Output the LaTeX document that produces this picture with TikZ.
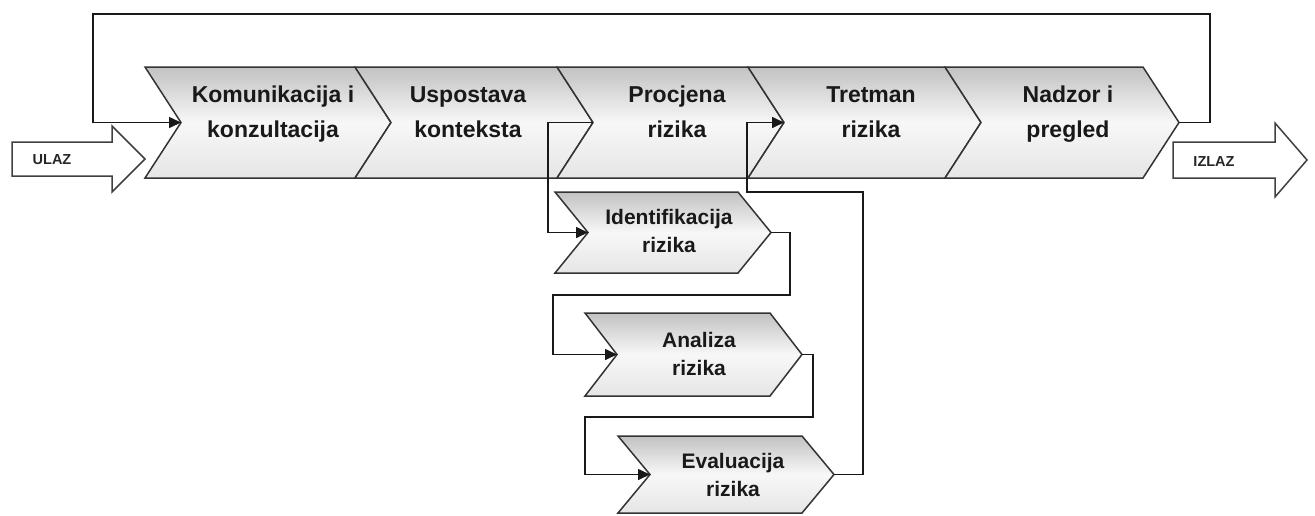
\documentclass[tikz,border=0pt]{standalone}
\usepackage{fontspec}
\setmainfont{Liberation Sans}
\usetikzlibrary{arrows.meta}
\newcommand\mychev[5]{\path[chev] (#1,#3) -- (#2,#3) -- ({#2+#5},{(#3+#4)/2}) -- (#2,#4) -- (#1,#4) -- ({#1+#5},{(#3+#4)/2}) -- cycle;}
\begin{document}
\begin{tikzpicture}[x=1pt,y=-1pt,
  chev/.style={draw=black!80, line width=1.5pt, line join=miter, top color=black!24, bottom color=black!10, middle color=black!3},
  lbl/.style={font=\bfseries\fontsize{23}{35}\selectfont, align=center, inner sep=0pt, anchor=north, text=black!90},
  slbl/.style={font=\bfseries\fontsize{21}{28}\selectfont, align=center, inner sep=0pt, anchor=north, text=black!90},
  conn/.style={draw=black!90, line width=1.6pt},
  arr/.style={conn, -{Triangle[length=12pt,width=11pt]}},
  bigarrow/.style={draw=black!75, line width=1.5pt, fill=white, line join=miter},
  io/.style={font=\bfseries\fontsize{14.5}{16}\selectfont, inner sep=0pt, text=black!85}]
\useasboundingbox (0,0) rectangle (1315,515);

% main band
\mychev{145}{355}{67}{178}{36}
\mychev{355}{557}{67}{178}{36}
\mychev{557}{748}{67}{178}{36}
\mychev{748}{945}{67}{178}{36}
\mychev{945}{1143}{67}{178}{36}
% sub chevrons
\mychev{555}{738}{192}{273}{33}
\mychev{585}{770}{313}{396}{32}
\mychev{618}{802}{436}{513}{32}

% anchor points
\coordinate (kom-n) at (181,122.5);
\coordinate (usp-t) at (593,122.5);
\coordinate (tre-n) at (784,122.5);
\coordinate (nad-t) at (1179,122.5);
\coordinate (idn-n) at (588,232.5);
\coordinate (idn-t) at (771,232.5);
\coordinate (ana-n) at (617,354.5);
\coordinate (ana-t) at (802,354.5);
\coordinate (eva-n) at (650,474.5);
\coordinate (eva-t) at (834,474.5);

% labels
\node[lbl] (kom) at (273,86) {Komunikacija i\\konzultacija};
\node[lbl] (usp) at (468,86) {Uspostava\\konteksta};
\node[lbl] (pro) at (677,86) {Procjena\\rizika};
\node[lbl] (tre) at (871,86) {Tretman\\rizika};
\node[lbl] (nad) at (1068,86) {Nadzor i\\pregled};
\node[slbl] (idn) at (669,209) {Identifikacija\\rizika};
\node[slbl] (ana) at (699,332) {Analiza\\rizika};
\node[slbl] (eva) at (733,453) {Evaluacija\\rizika};

% input / output arrows
\path[bigarrow] (12,142) -- (112,142) -- (112,126) -- (145,159) -- (112,192) -- (112,176) -- (12,176) -- cycle;
\node[io] (ulaz) at (52,160) {ULAZ};
\path[bigarrow] (1173,142) -- (1275,142) -- (1275,123) -- (1307,160) -- (1275,197) -- (1275,178) -- (1173,178) -- cycle;
\node[io] (izlaz) at (1214,162) {IZLAZ};

% connectors
\draw[arr] (nad-t) -| (1210,14) -| (93,122.5) -- (kom-n);
\draw[arr] (usp-t) -- (548,122.5) |- (idn-n);
\draw[arr] (idn-t) -| (790,295) -- (553,295) |- (ana-n);
\draw[arr] (ana-t) -| (813,417) -- (585,417) |- (eva-n);
\draw[arr] (eva-t) -| (863,192) -- (747,192) |- (tre-n);
\end{tikzpicture}
\end{document}
